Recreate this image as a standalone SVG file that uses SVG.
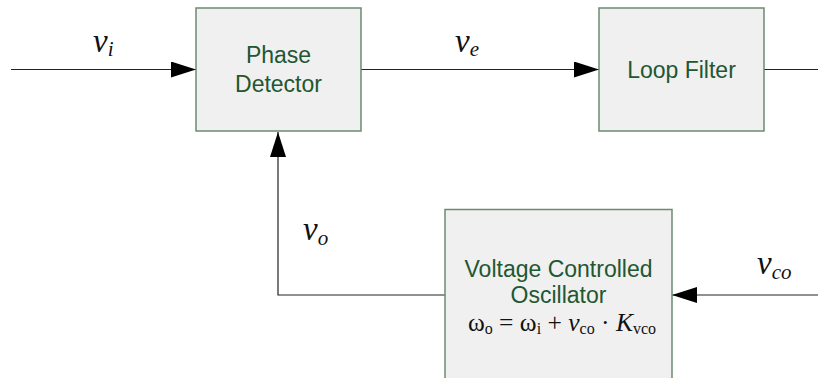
<svg xmlns="http://www.w3.org/2000/svg" width="818" height="378" viewBox="0 0 818 378">
<defs>
<style>
.box{fill:#f0f0f0;stroke:#6b8a72;stroke-width:1.5}
.lbl{font-family:"Liberation Sans",Arial,sans-serif;font-size:23px;fill:#215732;text-anchor:middle}
.ln{fill:none;stroke:#222;stroke-width:1.2}
.var{font-family:"Liberation Serif","Times New Roman",serif;font-style:italic;font-size:33px;fill:#111}
.sub{font-size:21px}
.eq{font-family:"Liberation Serif","Times New Roman",serif;font-size:25.5px;fill:#111;text-anchor:middle}
.eqs{font-size:16px}
</style>
<marker id="ah" viewBox="0 0 25 16" refX="25" refY="8" markerWidth="25" markerHeight="16" markerUnits="userSpaceOnUse" orient="auto">
<path d="M0,0 L25,8 L0,16 Z" fill="#000"/>
</marker>
</defs>
<rect width="818" height="378" fill="#fff"/>
<g id="connectors">
<path class="ln" d="M11,69.5 H196" marker-end="url(#ah)"/>
<path class="ln" d="M361,69.5 H599" marker-end="url(#ah)"/>
<path class="ln" d="M764,69.5 H818"/>
<path class="ln" d="M445,295 H278 V132" marker-end="url(#ah)"/>
<path class="ln" d="M818,295 H672" marker-end="url(#ah)"/>
</g>
<g id="phase-detector">
<rect class="box" x="196" y="8" width="165" height="123"/>
<text class="lbl" x="278.5" y="63">Phase</text>
<text class="lbl" x="278.5" y="92">Detector</text>
</g>
<g id="loop-filter">
<rect class="box" x="599" y="8" width="165" height="123"/>
<text class="lbl" x="681.5" y="77.5">Loop Filter</text>
</g>
<g id="vco">
<rect class="box" x="445" y="209.5" width="227" height="180"/>
<text class="lbl" x="558.5" y="276.5">Voltage Controlled</text>
<text class="lbl" x="558.5" y="302.5">Oscillator</text>
<text class="eq" x="562" y="331">ω<tspan class="eqs" dy="3">o</tspan><tspan dy="-3"> = ω</tspan><tspan class="eqs" dy="3">i</tspan><tspan dy="-3"> + </tspan><tspan font-style="italic">v</tspan><tspan class="eqs" dy="3">co</tspan><tspan dy="-3"> · </tspan><tspan font-style="italic">K</tspan><tspan class="eqs" dy="3">vco</tspan></text>
</g>
<g id="labels">
<text class="var" x="93" y="52">v<tspan class="sub" dy="4">i</tspan></text>
<text class="var" x="455" y="52">v<tspan class="sub" dy="4">e</tspan></text>
<text class="var" x="303" y="240">v<tspan class="sub" dy="5">o</tspan></text>
<text class="var" x="757" y="274">v<tspan class="sub" dy="5">co</tspan></text>
</g>
</svg>
